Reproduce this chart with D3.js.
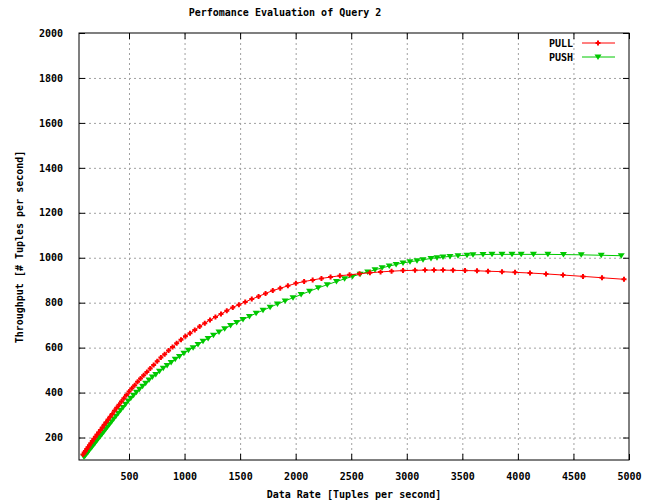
<!DOCTYPE html>
<html>
<head>
<meta charset="utf-8">
<script src="https://cdn.jsdelivr.net/npm/d3@7"></script>
<style>
  body { margin: 0; background: #fff; }
  svg text { font-family: "DejaVu Sans Mono", "Liberation Mono", monospace; font-weight: bold; font-size: 10px; fill: #000; }
  .grid line { stroke: #a0a0a0; stroke-dasharray: 2,3; }
  .grid path { display: none; }
</style>
</head>
<body>
<svg width="646" height="504"></svg>
<script>
// PULL series
var pullRate = [86,97,108,120,132,144,157,170,184,198,213,228,244,260,277,294,312,330,349,369,389,410,432,454,477,501,526,551,577,604,632,661,691,722,754,787,821,856,892,929,968,1008,1049,1092,1136,1182,1229,1278,1328,1380,1434,1489,1546,1605,1666,1729,1794,1861,1930,2002,2076,2153,2232,2314,2398,2485,2575,2668,2764,2863,2966,3074,3164,3245,3326,3416,3524,3632,3731,3857,3974,4109,4253,4406,4586,4757,4955];
var pullThroughput = [125,133,140,149,157,166,175,184,194,204,214,224,234,245,257,268,280,292,305,319,333,346,360,375,389,405,419,433,448,463,477,492,507,523,539,556,571,587,603,619,635,651,664,679,694,709,723,736,750,764,779,791,803,816,828,841,854,864,875,886,894,901,908,914,920,924,929,933,937,940,943,944,945,945,945,944,943,942,940,938,935,932,928,923,917,911,904];

// PUSH series
var pushRate = [95,106,118,130,142,155,168,182,196,210,225,240,256,272,289,306,324,343,362,382,403,424,446,469,492,516,541,567,594,622,650,680,710,741,774,808,843,879,916,954,994,1035,1077,1121,1166,1212,1260,1310,1361,1414,1469,1526,1584,1644,1706,1770,1836,1905,1976,2049,2125,2203,2284,2367,2440,2512,2580,2648,2714,2778,2842,2904,2966,3029,3092,3146,3218,3272,3326,3389,3461,3542,3596,3686,3767,3857,3947,4030,4140,4270,4410,4570,4750,4930];
var pushThroughput = [113,120,128,135,143,151,159,168,177,186,196,205,215,225,236,247,258,270,282,295,308,321,334,348,362,375,388,401,415,428,442,456,469,481,495,508,521,534,548,561,575,588,600,614,628,641,655,669,684,698,712,725,739,753,766,780,794,808,822,836,851,866,880,894,906,917,927,937,946,955,963,970,977,982,987,991,997,1000,1003,1006,1009,1011,1013,1014,1015,1015,1015,1015,1015,1015,1014,1013,1011,1009];

var xTicks = [500,1000,1500,2000,2500,3000,3500,4000,4500,5000];
var yTicks = [200,400,600,800,1000,1200,1400,1600,1800,2000];

var chartTitle = "Perfomance Evaluation of Query 2";
var xTitle = "Data Rate [Tuples per second]";
var yTitle = "Throughput [# Tuples per second]";

var margin = {top: 33, left: 79, right: 17, bottom: 44};
var svg = d3.select("svg");
var width = +svg.attr("width") - margin.left - margin.right;
var height = +svg.attr("height") - margin.top - margin.bottom;

var g = svg.append("g")
    .attr("transform", "translate(" + margin.left + "," + margin.top + ")");

var scaleX = d3.scaleLinear().domain([50, 5000]).range([0, width]);
var scaleY = d3.scaleLinear().domain([100, 2000]).range([height, 0]);
var fmt = d3.format("d");

// grid
g.append("g").attr("class", "grid")
    .attr("transform", "translate(0," + height + ")")
    .call(d3.axisBottom(scaleX).tickValues(xTicks.slice(0, -1)).tickSize(-height).tickFormat(""));
g.append("g").attr("class", "grid")
    .call(d3.axisLeft(scaleY).tickValues(yTicks.slice(0, -1)).tickSize(-width).tickFormat(""));

// axes with inward ticks on all four sides
var axBottom = g.append("g")
    .attr("transform", "translate(0," + height + ")")
    .call(d3.axisBottom(scaleX).tickValues(xTicks).tickSize(-6).tickPadding(13).tickFormat(fmt));
var axTop = g.append("g")
    .call(d3.axisTop(scaleX).tickValues(xTicks).tickSize(-6).tickFormat(""));
var axLeft = g.append("g")
    .call(d3.axisLeft(scaleY).tickValues(yTicks).tickSize(-6).tickPadding(16).tickFormat(fmt));
var axRight = g.append("g")
    .attr("transform", "translate(" + width + ",0)")
    .call(d3.axisRight(scaleY).tickValues(yTicks).tickSize(-6).tickFormat(""));

[axBottom, axTop, axLeft, axRight].forEach(function(a) {
    a.select(".domain").remove();
    a.selectAll("line").attr("stroke", "#000");
    a.selectAll("text").attr("font-family", null).attr("font-size", null);
});

g.append("rect")
    .attr("width", width).attr("height", height)
    .attr("fill", "none").attr("stroke", "#000").attr("stroke-width", 1);

// series
var line = d3.line()
    .x(function(d) { return scaleX(d[0]); })
    .y(function(d) { return scaleY(d[1]); });

var pullData = pullRate.map(function(r, i) { return [r, pullThroughput[i]]; });
var pushData = pushRate.map(function(r, i) { return [r, pushThroughput[i]]; });

var red = "#ff0000", green = "#00c800";
var plus = "M-2.5,-1 H-1 V-2.5 H1 V-1 H2.5 V1 H1 V2.5 H-1 V1 H-2.5 Z";
var tri = "M-3.5,-2.5 L3.5,-2.5 L0,3 Z";

var plot = g.append("g");

plot.append("path").datum(pushData)
    .attr("d", line).attr("fill", "none").attr("stroke", green).attr("stroke-width", 1);
plot.selectAll(".push").data(pushData).enter().append("path")
    .attr("class", "push")
    .attr("d", tri).attr("fill", green)
    .attr("transform", function(d) { return "translate(" + scaleX(d[0]) + "," + scaleY(d[1]) + ")"; });

plot.append("path").datum(pullData)
    .attr("d", line).attr("fill", "none").attr("stroke", red).attr("stroke-width", 1);
plot.selectAll(".pull").data(pullData).enter().append("path")
    .attr("class", "pull")
    .attr("d", plus).attr("fill", red)
    .attr("transform", function(d) { return "translate(" + scaleX(d[0]) + "," + scaleY(d[1]) + ")"; });

// legend
var legend = [
    {name: "PULL", color: red, marker: plus},
    {name: "PUSH", color: green, marker: tri}
];
var lg = svg.append("g");
legend.forEach(function(d, i) {
    var y = 43 + i * 14;
    lg.append("text").attr("x", 573).attr("y", y).attr("dy", "0.35em")
        .attr("text-anchor", "end").text(d.name);
    lg.append("line").attr("x1", 582).attr("x2", 615).attr("y1", y).attr("y2", y)
        .attr("stroke", d.color);
    lg.append("path").attr("d", d.marker).attr("fill", d.color)
        .attr("transform", "translate(598," + y + ")");
});

// titles
svg.append("text").attr("x", 285).attr("y", 16).attr("text-anchor", "middle").text(chartTitle);
svg.append("text").attr("x", 354).attr("y", 498).attr("text-anchor", "middle").text(xTitle);
svg.append("text")
    .attr("transform", "translate(23,247) rotate(-90)")
    .attr("text-anchor", "middle").text(yTitle);
</script>
</body>
</html>
